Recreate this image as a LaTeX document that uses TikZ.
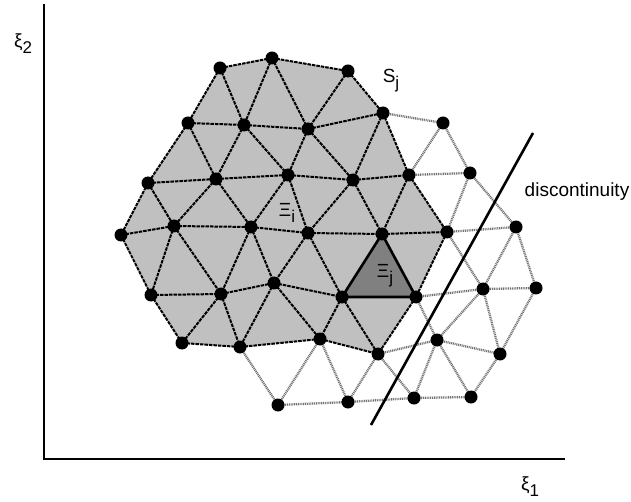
\documentclass[tikz,border=0pt]{standalone}
\usepackage{fontspec}
\setmainfont{Liberation Sans}
\usetikzlibrary{backgrounds}
\newcommand\lowsub[1]{\raisebox{-0.6ex}{\fontsize{17}{17}\selectfont #1}}
\begin{document}
\begin{tikzpicture}[x=1pt,y=-1pt,
  dot/.style={circle,fill=black,inner sep=0pt,minimum size=13pt},
  meshedge/.style={draw=black,line width=2pt,dash pattern=on 3.5pt off 1pt},
  outeredge/.style={draw=black!55,line width=2.3pt,dash pattern=on 1pt off 0.8pt},
  axisline/.style={draw=black,line width=2.6pt},
  lbl/.style={font=\fontsize{19}{22}\selectfont,inner sep=0pt}]
\useasboundingbox (0,0) rectangle (631,502);
\foreach \n/\x/\y in {A1/220/68, A2/272/58, A3/348/71,
  B1/188/123, B2/244/125, B3/308/129, B4/383/113,
  C1/148/183, C2/216/179, C3/288/175, C4/353/180, C5/409/175,
  D1/121/235, D2/174/226, D3/251/227, D4/308/233, D5/382/234, D6/447/232,
  E1/151/295, E2/221/294, E3/274/283, E4/342/297, E5/416/297,
  F1/182/343, F2/240/347, F3/320/339, F4/378/354,
  G1/443/123, G2/470/173, G3/516/227, G4/483/289, G5/536/288, G6/437/340, G7/500/354,
  H1/278/405, H2/348/402, H3/414/398, H4/471/397}
  \node[dot] (\n) at (\x,\y) {};
\begin{pgfonlayer}{background}
  \fill[fill={rgb,255:red,192;green,192;blue,192}] (A1.center) -- (A2.center) -- (A3.center) -- (B4.center) -- (C5.center) -- (D6.center) -- (E5.center) -- (F4.center) -- (F3.center) -- (F2.center) -- (F1.center) -- (E1.center) -- (D1.center) -- (C1.center) -- (B1.center) -- cycle;
  \fill[fill={rgb,255:red,128;green,128;blue,128}] (D5.center) -- (E4.center) -- (E5.center) -- cycle;
  \foreach \a/\b in {A1/A2, A2/A3, A1/B1, A1/B2, A2/B2, A2/B3, A3/B3, A3/B4,
    B1/B2, B2/B3, B3/B4,
    B1/C1, B1/C2, B2/C2, B2/C3, B3/C3, B3/C4, B4/C4, B4/C5,
    C1/C2, C2/C3, C3/C4, C4/C5,
    C1/D1, C1/D2, C2/D2, C2/D3, C3/D3, C3/D4, C4/D4, C4/D5, C5/D5, C5/D6,
    D1/D2, D2/D3, D3/D4, D4/D5, D5/D6,
    D1/E1, D2/E1, D2/E2, D3/E2, D3/E3, D4/E3, D4/E4, D6/E5,
    E1/E2, E2/E3, E3/E4,
    E1/F1, E2/F1, E2/F2, E3/F2, E3/F3, E4/F3, E4/F4, E5/F4,
    F1/F2, F2/F3, F3/F4}
    \draw[meshedge] (\a.center) -- (\b.center);
  \foreach \a/\b in {B4/G1, G1/C5, G1/G2, C5/G2, G2/D6, G2/G3, D6/G3, D6/G4,
    G3/G4, G3/G5, G4/G5, E5/G4, E5/G6, G4/G6, G4/G7, G5/G7, G6/G7,
    F4/G6, F4/H3, G6/H3, G6/H4, G7/H4, H3/H4, F4/H2, H2/H3, F3/H2, F3/H1, F2/H1, H1/H2}
    \draw[outeredge] (\a.center) -- (\b.center);
  \draw[line width=2.6pt,line join=round] (D5.center) -- (E4.center) -- (E5.center) -- cycle;
\end{pgfonlayer}
\coordinate (dtop) at (533,133);
\coordinate (dbot) at (371,425);
\draw[line width=2.6pt] (dbot) -- (dtop);
\coordinate (ytop) at (44,4);
\coordinate (orig) at (44,459);
\coordinate (xend) at (565,459);
\draw[axisline] (ytop) -- (orig) -- (xend);
\node[lbl] (xi2) at (23,44) {ξ\lowsub{2}};
\node[lbl] (xi1) at (530,487) {ξ\lowsub{1}};
\node[lbl] (sj) at (391,81) {S\lowsub{j}};
\node[lbl] (xii) at (287,213) {Ξ\lowsub{i}};
\node[lbl] (xij) at (385,276) {Ξ\lowsub{j}};
\node[lbl] (disc) at (577,192) {discontinuity};
\end{tikzpicture}
\end{document}
